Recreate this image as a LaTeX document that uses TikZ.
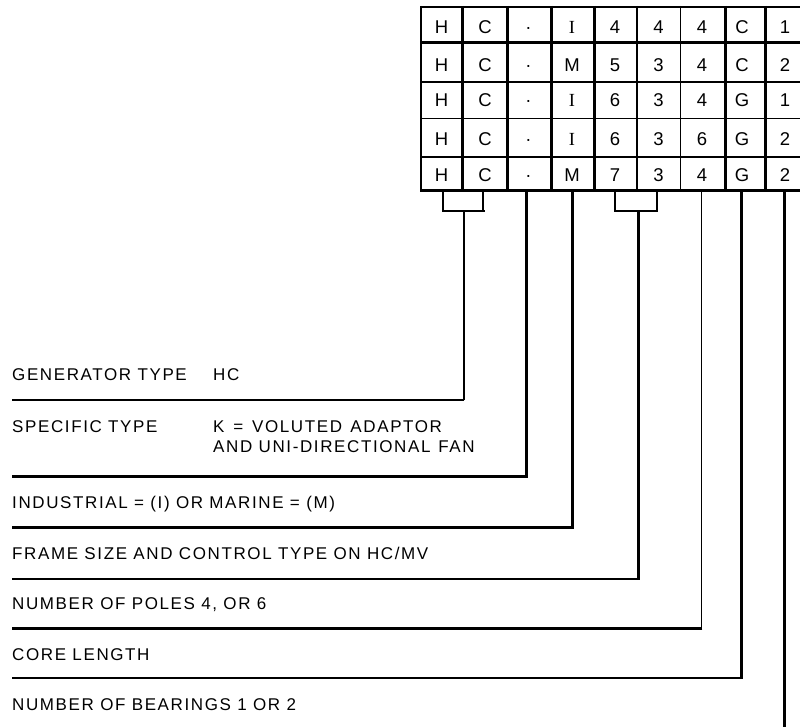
\documentclass[tikz,border=0pt]{standalone}
\usepackage{fontspec}
\setmainfont{Liberation Sans}
\newfontfamily\lblfont[LetterSpace=9.5]{Liberation Sans}
\newfontfamily\serifI{Liberation Serif}
\begin{document}
\begin{tikzpicture}[x=1pt,y=-1pt,
  lbl/.style={anchor=base west, inner sep=0pt, font=\lblfont\fontsize{17}{20}\selectfont},
  cell/.style={anchor=base, inner sep=0pt, font=\fontsize{18.5}{20}\selectfont},
  wthin/.style={line width=1.4pt},
  wmid/.style={line width=2.2pt},
  wthick/.style={line width=2.8pt}]
\useasboundingbox (0,0) rectangle (800,727);
\fill[white] (0,0) rectangle (800,727);
% ---- table grid ----
\draw[line width=2pt]   (421,7) -- (810,7);
\draw[line width=3pt]   (421,43) -- (810,43);
\draw[line width=2pt]   (421,82.3) -- (810,82.3);
\draw[line width=1.5pt] (421,118.3) -- (810,118.3);
\draw[line width=2pt]   (421,156.7) -- (810,156.7);
\draw[line width=3pt]   (420,191) -- (810,191);
\draw[line width=2pt]   (421,6) -- (421,192);
\draw[line width=3pt]   (462.3,6) -- (462.3,192);
\draw[line width=3pt]   (507.7,6) -- (507.7,192);
\draw[line width=2.5pt] (551.7,6) -- (551.7,192);
\draw[line width=2.5pt] (594.5,6) -- (594.5,192);
\draw[line width=2pt]   (636.5,6) -- (636.5,192);
\draw[line width=1.3pt] (680.5,6) -- (680.5,192);
\draw[line width=3pt]   (725,6) -- (725,192);
\draw[line width=3pt]   (765.5,6) -- (765.5,192);
% ---- table cells ----
\def\colx{{441.5,485,528.5,572,615,658.5,702,742,785}}
\def\rowb{{34,71.5,107,146,181.5}}
\foreach [count=\r] \rl in {{H,C,·,{\serifI I},4,4,4,C,1},{H,C,·,M,5,3,4,C,2},{H,C,·,{\serifI I},6,3,4,G,1},{H,C,·,{\serifI I},6,3,6,G,2},{H,C,·,M,7,3,4,G,2}} {
  \foreach [count=\c] \t in \rl {
    \pgfmathsetmacro\xx{\colx[\c-1]}
    \pgfmathsetmacro\yy{\rowb[\r-1]}
    \node[cell] (t-\r-\c) at (\xx,\yy) {\t};
  }
}
% ---- labels ----
\node[lbl] (gen)    at (12,380)   {GENERATOR TYPE};
\node[lbl] (genv)   at (213,380)  {HC};
\node[lbl] (spec)   at (12,432)   {SPECIFIC TYPE};
\node[lbl] (specv)  at (213,432)  {K\hspace{2.5pt} =\hspace{2.5pt} VOLUTED\hspace{2pt} ADAPTOR};
\node[lbl] (specw)  at (213,452)  {AND UNI-DIRECTIONAL\hspace{1.5pt} FAN};
\node[lbl] (ind)    at (12,508.5) {INDUSTRIAL = (I) OR MARINE = (M)};
\node[lbl] (frame)  at (12,559.5) {FRAME SIZE AND CONTROL TYPE ON HC/MV};
\node[lbl] (poles)  at (12,609.5) {NUMBER OF POLES 4, OR 6};
\node[lbl] (core)   at (12,660.5) {CORE LENGTH};
\node[lbl] (bear)   at (12,710)   {NUMBER OF BEARINGS 1 OR 2};
% ---- connector coordinates ----
\coordinate (b1l) at (443.3,191);
\coordinate (b1r) at (483.3,191);
\coordinate (b1m) at (464.3,211);
\coordinate (b1k) at (464.3,400);
\coordinate (e1)  at (12,400);
\coordinate (s2)  at (526.7,191);
\coordinate (e2)  at (12,476.5);
\coordinate (s3)  at (572.7,191);
\coordinate (e3)  at (12,527.5);
\coordinate (b4l) at (615,191);
\coordinate (b4r) at (657.3,191);
\coordinate (b4m) at (638.3,210.7);
\coordinate (b4k) at (638.3,579);
\coordinate (e4)  at (12,579);
\coordinate (s5)  at (701.7,191);
\coordinate (b5k) at (701.7,628.3);
\coordinate (e5)  at (12,628.3);
\coordinate (s6)  at (741.7,191);
\coordinate (e6)  at (12,678);
\coordinate (s7)  at (784.5,191);
\coordinate (e7)  at (784.5,730);
% ---- connectors ----
\draw[wmid] (b1l) |- (b1m -| b1r) -- (b1r);
\draw[wmid] (b1l |- b1m) -- ([xshift=2pt]b1m -| b1r);
\draw[wmid] (b1m) -- (b1k);
\draw[wthin] (b1k) -- (e1);
\draw[wthick] (s2) |- (e2);
\draw[wthick] (s3) |- (e3);
\draw[wmid] (b4l) |- (b4m -| b4r) -- (b4r);
\draw[wthick] (b4m) -- (b4k);
\draw[wthin] ([xshift=1.4pt]b4k) -- (e4);
\draw[wthin] (s5) -- (b5k);
\draw[wthick] ([xshift=0.7pt]b5k) -- (e5);
\draw[wthick] (s6) |- (e6);
\draw[wthick] (s7) -- (e7);
\end{tikzpicture}
\end{document}
